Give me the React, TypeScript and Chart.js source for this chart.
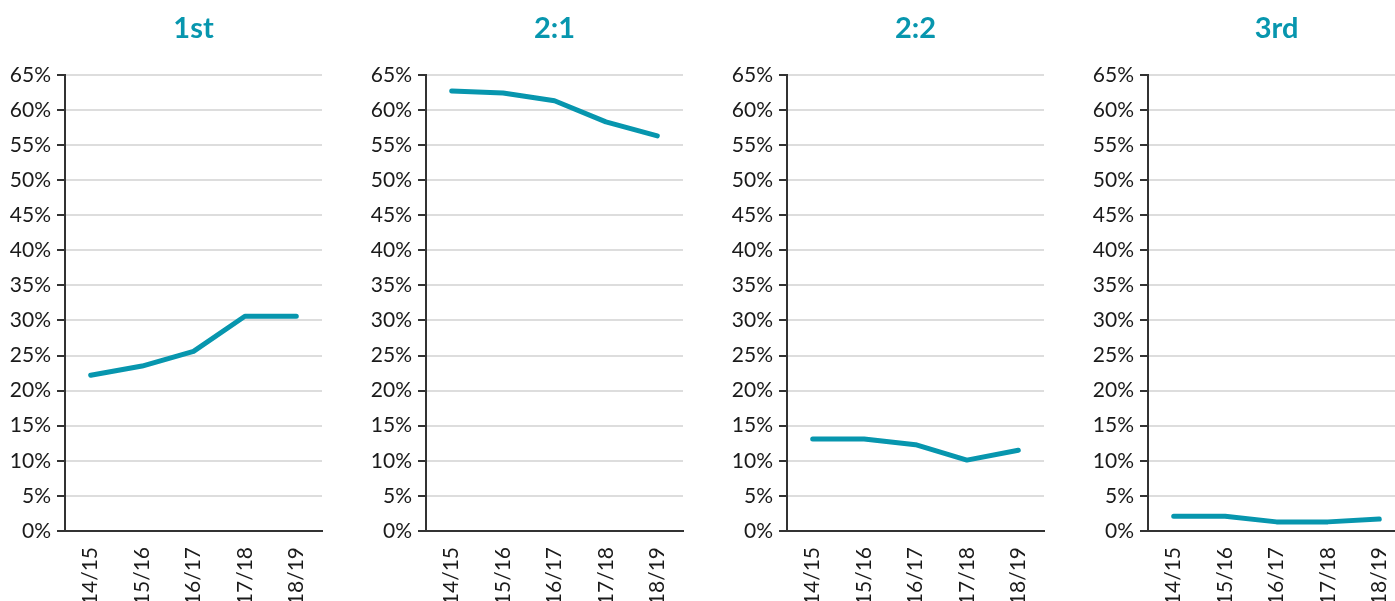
import React, { useEffect, useRef } from "react";
import { Chart, registerables } from "chart.js";

Chart.register(...registerables);

const categories = ["14/15", "15/16", "16/17", "17/18", "18/19"];
const panelTitles = ["1st", "2:1", "2:2", "3rd"];
const firstValues = [22.2, 23.5, 25.6, 30.6, 30.6];
const upperSecondValues = [62.7, 62.4, 61.3, 58.3, 56.3];
const lowerSecondValues = [13.1, 13.1, 12.3, 10.1, 11.5];
const thirdValues = [2.1, 2.1, 1.3, 1.3, 1.7];
const panelValues = [firstValues, upperSecondValues, lowerSecondValues, thirdValues];

const TEAL = "#0796AE";
const FONT = "Lato, 'Open Sans', sans-serif";

function Panel({ title, values, left }: { title: string; values: number[]; left: number }) {
  const ref = useRef<HTMLCanvasElement>(null);
  useEffect(() => {
    if (!ref.current) return;
    const chart = new Chart(ref.current, {
      type: "line",
      data: {
        labels: categories,
        datasets: [
          {
            data: values,
            borderColor: TEAL,
            borderWidth: 5,
            pointRadius: 0,
            tension: 0,
            borderCapStyle: "round",
            borderJoinStyle: "round",
          },
        ],
      },
      options: {
        responsive: false,
        animation: false,
        layout: { padding: { left: 0, right: 18, top: 0, bottom: 0 } },
        plugins: {
          legend: { display: false },
          tooltip: { enabled: false },
          title: {
            display: true,
            text: title,
            fullSize: false,
            color: TEAL,
            font: { family: FONT, size: 29, weight: "bold" },
            padding: { top: 11, bottom: 29 },
          },
        },
        scales: {
          x: {
            offset: true,
            grid: { display: false, drawTicks: false },
            border: { color: "#333333", width: 2 },
            ticks: {
              color: "#1a1a1a",
              font: { family: FONT, size: 21 },
              minRotation: 90,
              maxRotation: 90,
              padding: 16,
            },
            afterFit: (s: any) => {
              s.height = 70;
            },
          },
          y: {
            min: 0,
            max: 65,
            grid: { color: "#dddddd", lineWidth: 2, tickColor: "#333333", tickLength: 8 },
            border: { color: "#333333", width: 2 },
            ticks: {
              stepSize: 5,
              color: "#1a1a1a",
              font: { family: FONT, size: 21 },
              padding: 6,
              callback: (v: any) => v + "%",
            },
            afterFit: (s: any) => {
              s.width = 65;
            },
          },
        },
      },
    });
    return () => chart.destroy();
  }, [title, values]);
  return (
    <canvas
      ref={ref}
      width={340}
      height={601}
      style={{ position: "absolute", left, top: 0, width: 340, height: 601 }}
    />
  );
}

export default function App() {
  return (
    <div
      style={{
        position: "fixed",
        left: 0,
        top: 0,
        width: 1395,
        height: 601,
        overflow: "hidden",
        background: "#ffffff",
      }}
    >
      {panelTitles.map((t, i) => (
        <Panel key={t} title={t} values={panelValues[i]} left={i * 361 - 0.5} />
      ))}
    </div>
  );
}
